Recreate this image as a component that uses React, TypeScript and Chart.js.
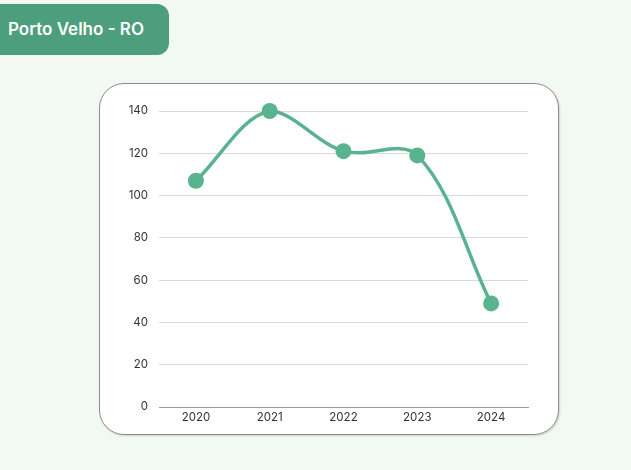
import React, { useEffect, useRef } from "react";
import { Chart, registerables } from "chart.js";

Chart.register(...registerables);

const categories = ["2020", "2021", "2022", "2023", "2024"];
const values = [107, 140, 121, 119, 49];
const yTicks = [0, 20, 40, 60, 80, 100, 120, 140];
const title = "Porto Velho - RO";

export default function App() {
  const ref = useRef<HTMLCanvasElement | null>(null);
  useEffect(() => {
    if (!ref.current) return;
    const chart = new Chart(ref.current, {
      type: "line",
      data: {
        labels: categories,
        datasets: [
          {
            data: values,
            borderColor: "#59b38e",
            backgroundColor: "#59b38e",
            borderWidth: 3.5,
            pointRadius: 8,
            pointHoverRadius: 8,
            pointBackgroundColor: "#59b38e",
            pointBorderWidth: 0,
            tension: 0.35,
            fill: false,
            clip: false as any,
          },
        ],
      },
      options: {
        animation: false,
        responsive: false,
        maintainAspectRatio: false,
        layout: { padding: { top: 28, right: 31, bottom: 0, left: 0 } },
        plugins: { legend: { display: false }, tooltip: { enabled: false } },
        scales: {
          x: {
            offset: true,
            grid: { display: false, drawTicks: false },
            border: { display: true, color: "#999999", width: 1 },
            ticks: { color: "#333333", padding: 4, font: { family: "Inter", size: 11.5 } },
            afterFit: (s: any) => {
              s.height = 28;
            },
          },
          y: {
            min: 0,
            max: 140,
            afterBuildTicks: (s: any) => {
              s.ticks = yTicks.map((v) => ({ value: v }));
            },
            grid: { color: "#d9d9d9", drawTicks: false, lineWidth: 1 },
            border: { display: false },
            ticks: { color: "#333333", padding: 11, font: { family: "Inter", size: 11.5 } },
            afterFit: (s: any) => {
              s.width = 60;
            },
          },
        },
      },
    });
    return () => chart.destroy();
  }, []);

  return (
    <div
      style={{
        position: "absolute",
        left: 0,
        top: 0,
        width: 631,
        height: 470,
        background: "#f2f8f2",
        overflow: "hidden",
        fontFamily: "Inter, sans-serif",
      }}
    >
      <div
        style={{
          position: "absolute",
          left: -20,
          top: 4,
          width: 189,
          height: 51,
          background: "#4c9e7c",
          borderRadius: 12,
          color: "#ffffff",
          fontWeight: 600,
          fontSize: 17,
          lineHeight: "51px",
          boxSizing: "border-box",
          paddingLeft: 28,
          whiteSpace: "nowrap",
        }}
      >
        {title}
      </div>
      <div
        style={{
          position: "absolute",
          left: 99,
          top: 83,
          width: 460,
          height: 352,
          background: "#ffffff",
          border: "1px solid #8c8c8c",
          borderRadius: 25,
          boxSizing: "border-box",
          boxShadow: "1px 1px 2px rgba(0,0,0,0.15)",
        }}
      />
      <canvas
        ref={ref}
        width={460}
        height={352}
        style={{ position: "absolute", left: 99, top: 83, width: 460, height: 352 }}
      />
    </div>
  );
}
